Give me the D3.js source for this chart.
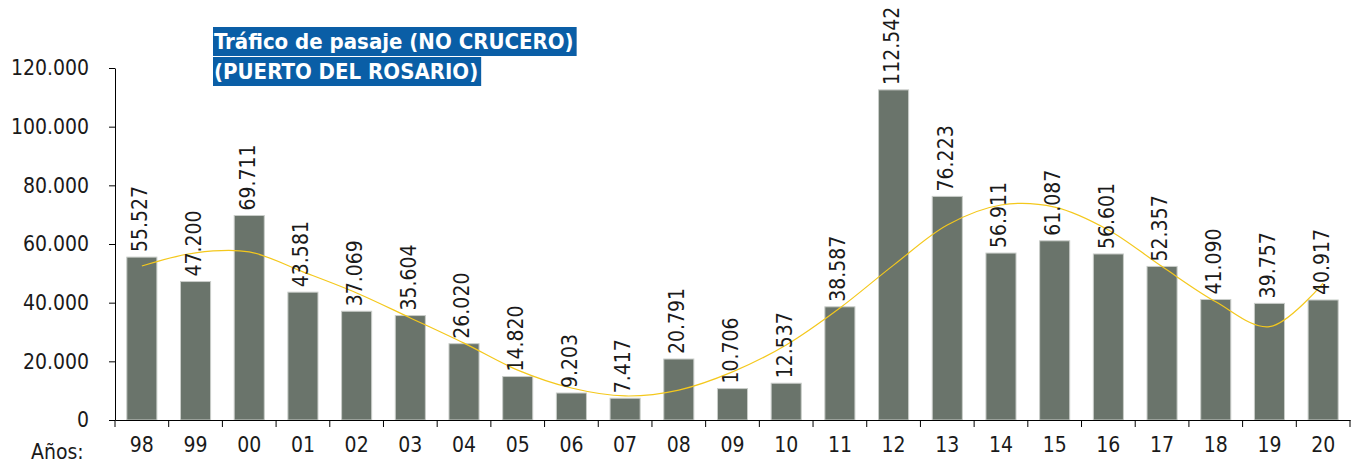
<!DOCTYPE html>
<html>
<head>
<meta charset="utf-8">
<script src="https://cdn.jsdelivr.net/npm/d3@7"></script>
<style>
  body { margin: 0; background: #fff; }
  svg { display: block; }
  text { font-family: "DejaVu Sans Condensed", "DejaVu Sans", sans-serif; fill: #1a1a1a; }
</style>
</head>
<body>
<svg id="chart" width="1360" height="463"></svg>
<script>
// years (two digits) and passenger counts
const years = ["98","99","00","01","02","03","04","05","06","07","08","09","10","11","12","13","14","15","16","17","18","19","20"];
const passengers = [55527,47200,69711,43581,37069,35604,26020,14820,9203,7417,20791,10706,12537,38587,112542,76223,56911,61087,56601,52357,41090,39757,40917];
// yellow trend line at each year
const trend = [52500,57000,57300,50500,43300,34800,26200,17000,10900,8200,10200,16400,25600,38200,52800,66500,73300,72600,64800,52300,40300,31800,46700];
const yTicks = [0,20000,40000,60000,80000,100000,120000];
const titleLines = ["Tráfico de pasaje (NO CRUCERO)", "(PUERTO DEL ROSARIO)"];

const svg = d3.select("#chart");
const plotLeft = 115, plotRight = 1350, plotTop = 68, plotBottom = 420;
const fontSize = 21;

const es = d3.formatLocale({decimal: ",", thousands: ".", grouping: [3], currency: ["", "€"]});
const fmt = es.format(",d");

const x = d3.scaleBand().domain(years).range([plotLeft, plotRight]).paddingInner(0.44).paddingOuter(0.22);
const y = d3.scaleLinear().domain([0, 120000]).range([plotBottom, plotTop]);

// bars
svg.append("g").selectAll("rect")
  .data(years)
  .join("rect")
  .attr("x", (d) => x(d))
  .attr("y", (d, i) => y(passengers[i]))
  .attr("width", x.bandwidth())
  .attr("height", (d, i) => plotBottom - y(passengers[i]))
  .attr("fill", "#6a746b")
  .attr("stroke", "#c9cdc9")
  .attr("stroke-width", 1);

// trend line
const line = d3.line()
  .x((d, i) => x(years[i]) + x.bandwidth() / 2)
  .y((d) => y(d))
  .curve(d3.curveCatmullRom);
svg.append("path")
  .datum(trend)
  .attr("d", line)
  .attr("fill", "none")
  .attr("stroke", "#f4c81c")
  .attr("stroke-width", 1.2);

// value labels, rotated
svg.append("g").selectAll("text")
  .data(years)
  .join("text")
  .attr("transform", (d, i) => `translate(${x(d) + x.bandwidth() / 2 - 2},${y(passengers[i]) - 5}) rotate(-90)`)
  .attr("dy", "0.35em")
  .attr("font-size", fontSize)
  .text((d, i) => fmt(passengers[i]));

// y axis
const yAxis = svg.append("g")
  .attr("transform", `translate(${plotLeft},0)`)
  .call(d3.axisLeft(y).tickValues(yTicks).tickFormat(fmt).tickSize(6).tickSizeOuter(0).tickPadding(20));
yAxis.selectAll("text").attr("font-size", fontSize).attr("font-family", null);
yAxis.selectAll("line, path").attr("stroke", "#000");

// x axis: labels centered, ticks at band boundaries
const xAxis = svg.append("g")
  .attr("transform", `translate(0,${plotBottom})`)
  .call(d3.axisBottom(x).tickSize(0).tickSizeOuter(0).tickPadding(17));
xAxis.selectAll("text").attr("font-size", fontSize).attr("font-family", null);
xAxis.select(".domain").attr("stroke", "#000");
xAxis.selectAll(".sep")
  .data(d3.range(years.length + 1))
  .join("line")
  .attr("class", "sep")
  .attr("x1", (i) => plotLeft + i * x.step())
  .attr("x2", (i) => plotLeft + i * x.step())
  .attr("y1", 0)
  .attr("y2", 7)
  .attr("stroke", "#000");

svg.append("text")
  .attr("x", 31)
  .attr("y", 459)
  .attr("font-size", fontSize)
  .text("Años:");

// title boxes
const title = svg.append("g").attr("transform", "translate(213,27)");
titleLines.forEach((t, i) => {
  const g = title.append("g").attr("transform", `translate(0,${i * 30})`);
  const rect = g.append("rect").attr("fill", "#0a5ea6").attr("height", 29);
  const txt = g.append("text")
    .attr("x", 1)
    .attr("y", 22)
    .attr("font-size", 22)
    .attr("font-weight", "bold")
    .style("fill", "#fff")
    .text(t);
  rect.attr("width", txt.node().getComputedTextLength() + 4);
});
</script>
</body>
</html>
